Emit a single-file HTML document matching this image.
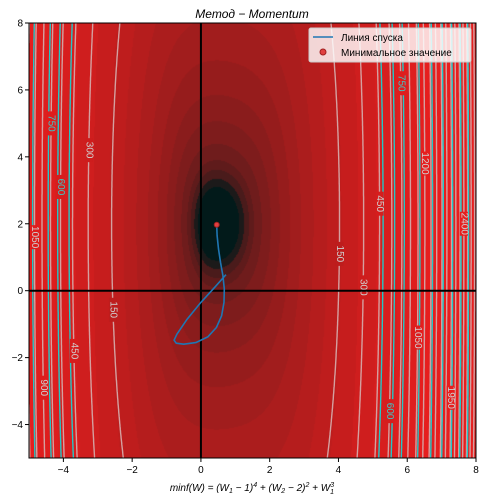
<!DOCTYPE html>
<html><head><meta charset="utf-8">
<style>
body{margin:0;background:#fff;width:485px;height:503px;overflow:hidden;font-family:"Liberation Sans","DejaVu Sans",sans-serif}
#wrap{position:relative;width:485px;height:503px}
canvas{position:absolute;left:0;top:0}
svg{position:absolute;left:0;top:0}
</style></head><body>
<div id="wrap">
<canvas id="cv" width="485" height="503"></canvas>
<svg id="sv" width="485" height="503"></svg>
</div>
<script>
const fillLevels=[0,1.4,2.0,2.8,3.8,5.9,9.6,15,24,38,62,100,160,260,420,680,1100,1e9];
const greyLevels=[150,300,450,600,750,900,1050,1200,1350,1500,1650,1800,1950,2100,2250,2400,2550,2700,2850];
const cyanLevels=[490,640,790,1090,1390,1690,1990,2290,2590];
const xTicks=[-4,-2,0,2,4,6,8];
const yTicks=[-4,-2,0,2,4,6,8];
const pathX=[0.73,0.4,0.0,-0.4,-0.7,-0.78,-0.72,-0.5,-0.15,0.2,0.45,0.6,0.67,0.68,0.64,0.57,0.51,0.47,0.46];
const pathY=[0.48,0.1,-0.35,-0.85,-1.3,-1.48,-1.57,-1.6,-1.55,-1.38,-1.1,-0.75,-0.35,0.05,0.45,0.85,1.25,1.65,1.97];
const labels=[[1200,0,7.0,'#d0d0d0'],[750,0,5.0,'#40c4c4'],[300,0,4.2,'#d0d0d0'],[600,0,3.1,'#40c4c4'],[1050,0,1.6,'#d0d0d0'],[150,0,-0.57,'#d0d0d0'],[450,0,-1.8,'#d0d0d0'],[900,0,-2.9,'#d0d0d0'],
[750,1,6.2,'#40c4c4'],[450,1,2.6,'#d0d0d0'],[150,1,1.1,'#d0d0d0'],[300,1,0.1,'#d0d0d0'],[1200,1,3.8,'#d0d0d0'],[1050,1,-1.4,'#d0d0d0'],[600,1,-3.6,'#40c4c4'],[1950,1,-3.2,'#d0d0d0'],[2400,1,2.0,'#d0d0d0']];

const L=29,R=476,T=23,B=458,X0=-5,X1=8,Y0=-5,Y1=8;
const sx=x=>L+(x-X0)/(X1-X0)*(R-L), sy=y=>B-(y-Y0)/(Y1-Y0)*(B-T);
const f=(x,y)=>Math.pow(x-1,4)+(y-2)*(y-2)+x*x*x;
const g=x=>Math.pow(x-1,4)+x*x*x;
const cv=document.getElementById('cv'),ctx=cv.getContext('2d');
const img=ctx.createImageData(R-L,B-T);
const nb=fillLevels.length-1;
function col(k){
 if(k===0)return[2,26,26];
 const a=[28,26,26],b=[230,30,30];const u=Math.pow((k-1)/(nb-2),0.55);
 return[a[0]+(b[0]-a[0])*u,a[1]+(b[1]-a[1])*u,a[2]+(b[2]-a[2])*u];}
for(let j=0;j<B-T;j++)for(let i=0;i<R-L;i++){
 const x=X0+(i+0.5)/(R-L)*(X1-X0),y=Y1-(j+0.5)/(B-T)*(Y1-Y0);
 const v=f(x,y);let k=0;while(k<nb-1&&v>=fillLevels[k+1])k++;
 const c=col(k),p=(j*(R-L)+i)*4;img.data[p]=c[0];img.data[p+1]=c[1];img.data[p+2]=c[2];img.data[p+3]=255;}
ctx.putImageData(img,L,T);

const NS='http://www.w3.org/2000/svg',sv=document.getElementById('sv');
function el(t,a,p){const e=document.createElementNS(NS,t);for(const k in a)e.setAttribute(k,a[k]);(p||sv).appendChild(e);return e;}
const xm=0.4586;
function solve(rhs,br){if(rhs<g(xm))return null;let a,b;if(br===0){a=-20;b=xm;}else{a=xm;b=20;}
 for(let i=0;i<60;i++){const m=(a+b)/2;const gm=g(m);if(br===0){if(gm>rhs)a=m;else b=m;}else{if(gm>rhs)b=m;else a=m;}}return (a+b)/2;}
function drawLevel(Lv,color,name){for(const br of [0,1]){let d='',pen=false;
 for(let y=Y0;y<=Y1+1e-9;y+=0.05){const x=solve(Lv-(y-2)*(y-2),br);
  if(x===null||x<X0||x>X1){pen=false;continue;}
  d+=(pen?'L':'M')+sx(x).toFixed(1)+','+sy(y).toFixed(1);pen=true;}
 if(d){const p=el('path',{d:d,fill:'none',stroke:color,'stroke-width':1.4,'clip-path':'url(#clip)'});
 
 }}}
const defs=el('defs',{});const cp=el('clipPath',{id:'clip'},defs);el('rect',{x:L,y:T,width:R-L,height:B-T},cp);
greyLevels.forEach(v=>drawLevel(v,'#d4a0a0','contour-line-grey'));
cyanLevels.forEach(v=>drawLevel(v,'#22c8c8','contour-line-cyan'));
labels.forEach(([v,br,y,c])=>{const x=solve(v-(y-2)*(y-2),br);if(x===null||x<X0||x>X1)return;
 const px=sx(x),py=sy(y);
 const fc=col(Math.min(nb-1,fillLevels.findIndex(q=>q>v)-1));
 const r=el('rect',{x:px-4,y:py-12,width:8,height:24,fill:`rgb(${fc[0]|0},${fc[1]|0},${fc[2]|0})`});
 
 
 const t=el('text',{x:px,y:py,fill:c,'font-size':10,'text-anchor':'middle','dominant-baseline':'central',transform:`rotate(90 ${px} ${py})`});
 t.textContent=v;
 
 });
let a1=el('line',{x1:sx(0),x2:sx(0),y1:T,y2:B,stroke:'#000','stroke-width':2});

let a2=el('line',{x1:L,x2:R,y1:sy(0),y2:sy(0),stroke:'#000','stroke-width':2});

let d='';pathX.forEach((x,i)=>{d+=(i?'L':'M')+sx(x).toFixed(1)+','+sy(pathY[i]).toFixed(1);});
const pth=el('path',{d:d,fill:'none',stroke:'#1f77b4','stroke-width':1.6,'stroke-linejoin':'round'});

const mp=el('circle',{cx:sx(pathX[pathX.length-1]),cy:sy(pathY[pathY.length-1]),r:2.5,fill:'#e04040',stroke:'#a02020'});

const fr=el('rect',{x:L,y:T,width:R-L,height:B-T,fill:'none',stroke:'#000','stroke-width':1});

xTicks.forEach(v=>{const x=sx(v);el('line',{x1:x,x2:x,y1:B,y2:B+4,stroke:'#000'});
 const t=el('text',{x:x,y:B+15,'font-size':10,'text-anchor':'middle',fill:'#000'});t.textContent=v<0?'\u2212'+(-v):v;
 });
yTicks.forEach(v=>{const y=sy(v);el('line',{x1:L-4,x2:L,y1:y,y2:y,stroke:'#000'});
 const t=el('text',{x:L-6,y:y+3.5,'font-size':10,'text-anchor':'end',fill:'#000'});t.textContent=v<0?'\u2212'+(-v):v;
 });
</script>
<svg width="485" height="503" style="position:absolute;left:0;top:0">
<text x="252" y="18" font-size="12" font-style="italic" text-anchor="middle">Метод − Momentum</text>
<text x="252" y="491" font-size="10" font-style="italic" text-anchor="middle">minf(W) = (W<tspan font-size="7" dy="2">1</tspan><tspan dy="-2"> − 1)</tspan><tspan font-size="7" dy="-4">4</tspan><tspan dy="4"> + (W</tspan><tspan font-size="7" dy="2">2</tspan><tspan dy="-2"> − 2)</tspan><tspan font-size="7" dy="-4">2</tspan><tspan dy="4"> + W</tspan><tspan font-size="7" dy="-4">3</tspan><tspan font-size="7" dx="-4" dy="7">1</tspan></text>
<g>
<rect x="309" y="28" width="162" height="34" rx="2" fill="#ffffff" fill-opacity="0.82" stroke="#ccc"/>
<line x1="313" y1="37" x2="333" y2="37" stroke="#1f77b4" stroke-width="1.6"/>
<text x="341" y="41" font-size="10" fill="#000">Линия спуска</text>
<circle cx="323" cy="52" r="3" fill="#e04040" stroke="#a02020"/>
<text x="341" y="56" font-size="10" fill="#000">Минимальное значение</text>
</g>
</svg>
</body></html>
